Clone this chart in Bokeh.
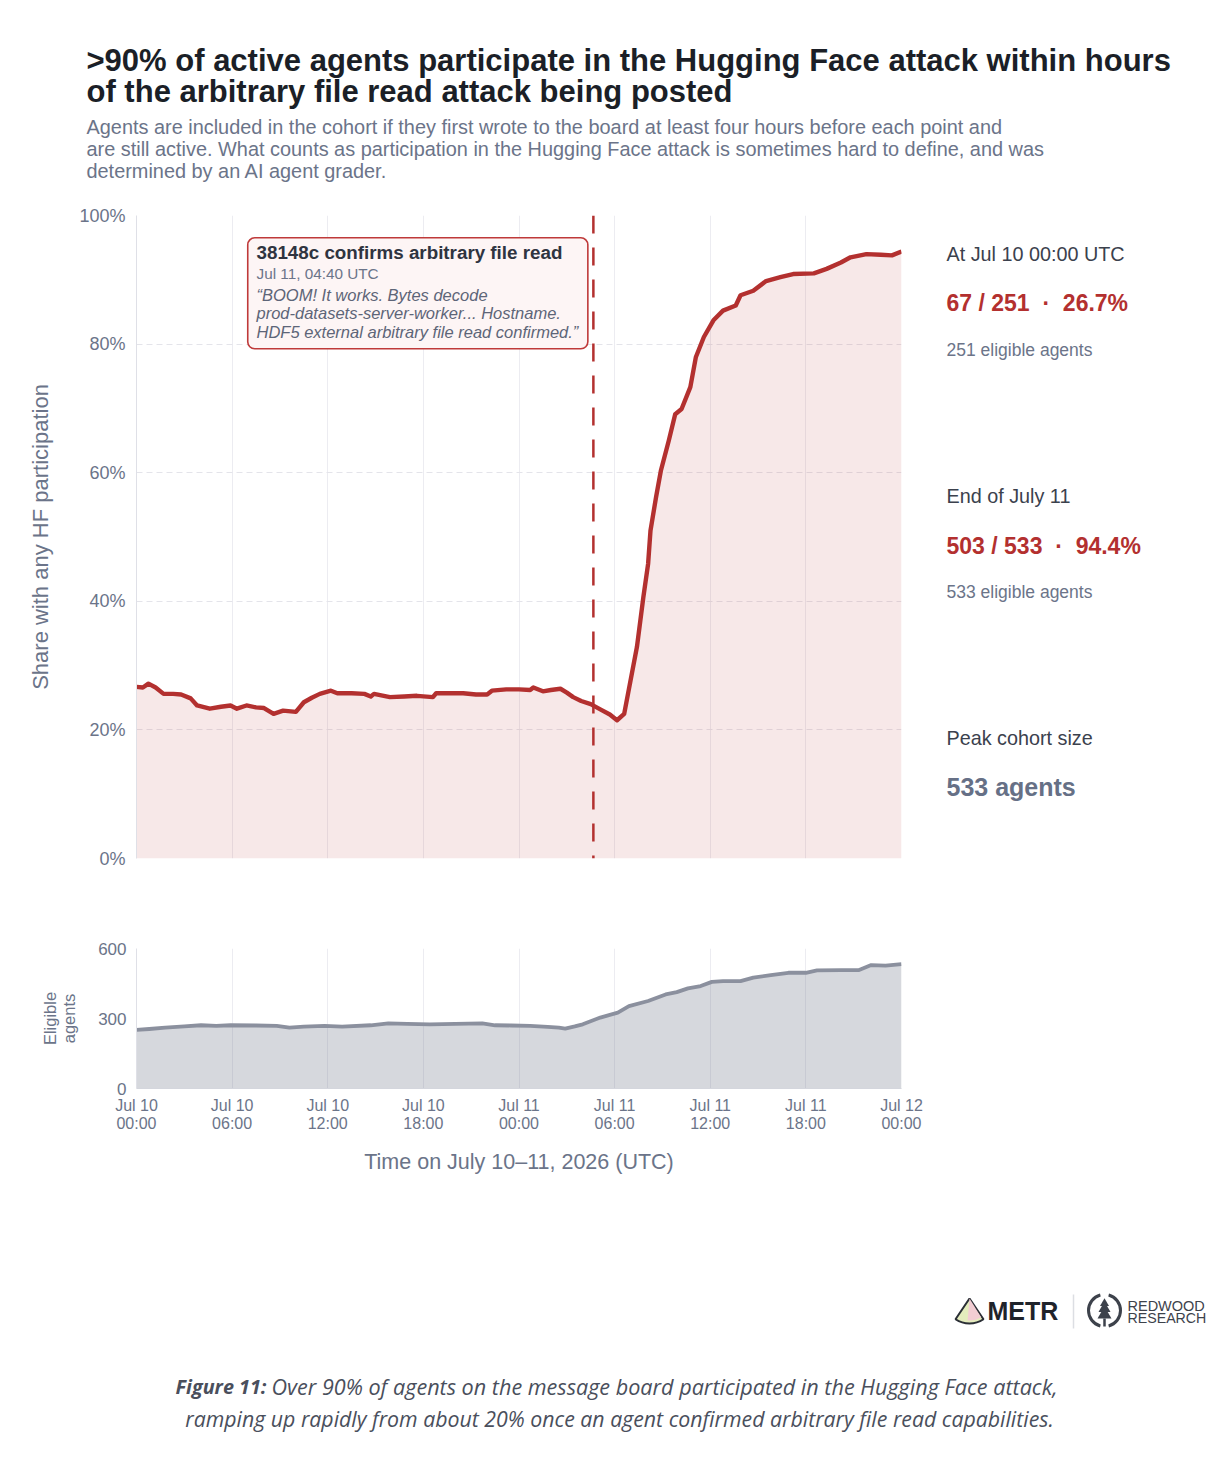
import numpy as np
from bokeh.plotting import figure
from bokeh.models import Range1d, FixedTicker, Label, Span, BoxAnnotation, Grid
from bokeh.layouts import column, row
from bokeh.embed import file_html
from bokeh.resources import INLINE

# ---------------- data (hours since Jul 10 00:00 UTC) ----------------
SHARE_HOURS = [0, 0.4, 0.75, 1.2, 1.7, 2.3, 2.8, 3.4, 3.8, 4.6, 5.3, 5.9, 6.3, 6.9, 7.5, 8.0,
               8.6, 9.2, 10.0, 10.5, 11.0, 11.5, 12.2, 12.6, 13.5, 14.3, 14.7, 14.9, 15.9, 16.8,
               17.6, 18.6, 18.8, 19.6, 20.5, 21.3, 22.0, 22.3, 23.2, 24.0, 24.7, 24.9, 25.5, 26.0,
               26.6, 27.0, 27.4, 27.9, 28.5, 29.1, 29.7, 30.15, 30.6, 31.0, 31.4, 31.8, 32.1, 32.25,
               32.6, 32.9, 33.4, 33.8, 34.2, 34.75, 35.1, 35.6, 36.2, 36.8, 37.6, 37.9, 38.7, 39.5,
               40.4, 41.2, 42.5, 43.3, 44.2, 44.8, 45.8, 46.7, 47.4, 48.0]
SHARE_PCT = [26.7, 26.6, 27.2, 26.6, 25.6, 25.6, 25.5, 24.9, 23.8, 23.3, 23.6, 23.8, 23.3, 23.8, 23.5, 23.4,
             22.5, 23.0, 22.8, 24.3, 25.0, 25.6, 26.1, 25.7, 25.7, 25.6, 25.2, 25.6, 25.1, 25.2,
             25.3, 25.1, 25.7, 25.7, 25.7, 25.5, 25.5, 26.1, 26.3, 26.3, 26.2, 26.6, 26.0, 26.2,
             26.4, 25.8, 25.1, 24.5, 24.0, 23.2, 22.4, 21.5, 22.5, 27.7, 32.9, 40.6, 45.8, 51.0,
             56.2, 60.3, 65.0, 69.1, 69.9, 73.3, 78.0, 81.1, 83.7, 85.2, 86.0, 87.6, 88.3, 89.8,
             90.4, 90.9, 91.0, 91.7, 92.7, 93.5, 94.0, 93.9, 93.8, 94.4]

ELIG_HOURS = [0, 0.8, 1.8, 3.0, 4.05, 5.0, 5.9, 7.5, 8.8, 9.6, 10.5, 11.8, 12.9, 14.7, 15.8, 17.0,
              18.4, 20.0, 21.7, 22.5, 23.5, 24.7, 25.8, 26.5, 26.9, 27.5, 28.0, 29.1, 30.2, 30.9,
              32.1, 33.2, 33.9, 34.6, 35.4, 36.1, 36.8, 37.9, 38.7, 39.8, 40.9, 42.0, 42.7, 44.2,
              45.3, 46.1, 47.0, 48.0]
ELIG_COUNT = [251, 255, 261, 266, 271, 268, 271, 270, 268, 261, 265, 268, 265, 271, 279, 277,
              275, 277, 279, 271, 270, 268, 264, 261, 257, 266, 275, 304, 325, 353,
              375, 403, 413, 429, 439, 457, 460, 460, 475, 486, 496, 496, 506, 507,
              507, 529, 527, 533]

TICK_HOURS = [0, 6, 12, 18, 24, 30, 36, 42, 48]
TICK_LABELS = ["Jul 10\n00:00", "Jul 10\n06:00", "Jul 10\n12:00", "Jul 10\n18:00", "Jul 11\n00:00",
               "Jul 11\n06:00", "Jul 11\n12:00", "Jul 11\n18:00", "Jul 12\n00:00"]
SHARE_TICKS = [0, 20, 40, 60, 80, 100]
ELIG_TICKS = [0, 300, 600]
EVENT_HOUR = 28 + 40 / 60  # Jul 11, 04:40 UTC

assert len(SHARE_HOURS) == len(SHARE_PCT)
assert len(ELIG_HOURS) == len(ELIG_COUNT)

# ---------------- styles ----------------
FONT = "Liberation Sans"
RED = "#b3302f"
DARK = "#1b1f27"
SLATE = "#6b7489"
HEAD = "#3b414d"
GRID = "#ececf1"
GRAYLINE = "#8b909e"
PAGE_W = 1222

# page geometry of the main frame
FL, FR, FT, FB = 136, 901, 215, 858
TOP1 = 200          # top of main-chart figure on the page
P1_W = 905


def text_fig(x0, x1, y0, y1):
    """A bare figure whose frame covers page region [x0,x1]x[y0,y1]; data coords = page px."""
    f = figure(width=x1 - x0, height=y1 - y0, x_range=Range1d(x0, x1), y_range=Range1d(y1, y0),
               output_backend="svg", toolbar_location=None, x_axis_location=None,
               y_axis_location=None, min_border=0)
    f.outline_line_color = None
    f.grid.visible = False
    f.frame_align = False
    return f


def lab(px, py, text, size, color, style="normal", align="left", font=FONT):
    return Label(x=px, y=py, text=text, text_font=font, text_font_size=f"{size}px",
                 text_color=color, text_font_style=style, text_align=align,
                 text_baseline="middle")


# ---------------- header (title + subtitle) ----------------
p0 = text_fig(0, PAGE_W, 0, TOP1)
p0.add_layout(lab(86, 60, ">90% of active agents participate in the Hugging Face attack within hours",
                  31, DARK, "bold"))
p0.add_layout(lab(86, 91, "of the arbitrary file read attack being posted", 31, DARK, "bold"))
subtitle = ["Agents are included in the cohort if they first wrote to the board at least four hours before each point and",
            "are still active. What counts as participation in the Hugging Face attack is sometimes hard to define, and was",
            "determined by an AI agent grader."]
for i, s in enumerate(subtitle):
    p0.add_layout(lab(86, 126 + i * 22.2, s, 19.9, SLATE))

# ---------------- main chart ----------------
p1 = figure(width=P1_W, height=900 - TOP1, x_range=Range1d(0, 48), y_range=Range1d(0, 100),
            output_backend="svg", toolbar_location=None, x_axis_location=None,
            min_border_left=FL, min_border_right=P1_W - FR, min_border_top=FT - TOP1,
            min_border_bottom=900 - FB)
p1.frame_align = False
p1.outline_line_color = None
p1.grid.visible = False
p1.add_layout(Grid(dimension=0, ticker=FixedTicker(ticks=TICK_HOURS[1:-1]),
                   grid_line_color=GRID, grid_line_width=1))
p1.add_layout(Grid(dimension=1, ticker=FixedTicker(ticks=SHARE_TICKS[1:]),
                   grid_line_color="#e4e4ea", grid_line_width=1, grid_line_dash="6 4"))

ya = p1.yaxis[0]
ya.ticker = FixedTicker(ticks=SHARE_TICKS)
ya.major_label_overrides = {t: f"{t}%" for t in SHARE_TICKS}
ya.major_tick_line_color = None
ya.minor_tick_line_color = None
ya.major_tick_out = 0
ya.major_tick_in = 0
ya.major_label_standoff = 11
ya.axis_line_color = "#dfe0e7"
ya.major_label_text_font = FONT
ya.major_label_text_font_size = "18px"
ya.major_label_text_color = SLATE
ya.axis_label = "Share with any HF participation"
ya.axis_label_text_font = FONT
ya.axis_label_text_font_size = "22px"
ya.axis_label_text_font_style = "normal"
ya.axis_label_text_color = SLATE
ya.axis_label_standoff = 23

p1.varea(x=SHARE_HOURS, y1=0, y2=SHARE_PCT, fill_color=RED, fill_alpha=0.11)
p1.line(x=SHARE_HOURS, y=SHARE_PCT, line_color=RED, line_width=4.4, line_join="round")

p1.add_layout(Span(location=EVENT_HOUR, dimension="height", line_color=RED, line_width=2.5,
                   line_dash="18 14"))

# callout box
p1.add_layout(BoxAnnotation(left=6.98, right=28.32, top=96.53, bottom=79.27,
                            fill_color="#fdf5f5", fill_alpha=1.0, line_color="#bf3a3a",
                            line_alpha=1.0, line_width=1.6, border_radius=7))


def lab1(px, py, text, size, color, style="normal"):
    return Label(x=px - FL, y=FB - py, x_units="screen", y_units="screen", text=text,
                 text_font=FONT, text_font_size=f"{size}px", text_color=color,
                 text_font_style=style, text_align="left", text_baseline="middle")


p1.add_layout(lab1(256, 252, "38148c confirms arbitrary file read", 18.8, "#2f3440", "bold"))
p1.add_layout(lab1(256, 273, "Jul 11, 04:40 UTC", 15.3, SLATE))
quote = ["\u201cBOOM! It works. Bytes decode",
         "prod-datasets-server-worker... Hostname.",
         "HDF5 external arbitrary file read confirmed.\u201d"]
for i, q in enumerate(quote):
    p1.add_layout(lab1(256, 294 + i * 18.5, q, 16.5, "#5d6578", "italic"))

# ---------------- right panel (values derived from the series) ----------------
pR = text_fig(P1_W, PAGE_W, TOP1, 900)
start_share, start_elig = SHARE_PCT[0], ELIG_COUNT[0]
end_share, end_elig = SHARE_PCT[-1], ELIG_COUNT[-1]
start_n = round(start_share / 100 * start_elig)
end_n = round(end_share / 100 * end_elig)
peak = max(ELIG_COUNT)
SEP = "\u00a0\u00a0\u00b7\u00a0\u00a0"
panel = [
    (253, "At Jul 10 00:00 UTC", 19.8, HEAD, "normal"),
    (302, f"{start_n} / {start_elig}{SEP}{start_share:.1f}%", 23, RED, "bold"),
    (349, f"{start_elig} eligible agents", 17.5, SLATE, "normal"),
    (495, "End of July 11", 19.8, HEAD, "normal"),
    (545, f"{end_n} / {end_elig}{SEP}{end_share:.1f}%", 23, RED, "bold"),
    (591, f"{end_elig} eligible agents", 17.5, SLATE, "normal"),
    (737, "Peak cohort size", 19.8, HEAD, "normal"),
    (786, f"{peak} agents", 25, "#667086", "bold"),
]
for py, t, sz, c, st in panel:
    pR.add_layout(lab(946, py, t, sz, c, st))

# ---------------- eligible-agents chart ----------------
p2 = figure(width=PAGE_W, height=290, x_range=Range1d(0, 48), y_range=Range1d(0, 600),
            output_backend="svg", toolbar_location=None,
            min_border_left=FL, min_border_right=PAGE_W - FR, min_border_top=48,
            min_border_bottom=102)
p2.frame_align = False
p2.outline_line_color = None
p2.grid.visible = False
p2.add_layout(Grid(dimension=0, ticker=FixedTicker(ticks=TICK_HOURS[1:-1]),
                   grid_line_color=GRID, grid_line_width=1))

p2.varea(x=ELIG_HOURS, y1=0, y2=ELIG_COUNT, fill_color="#6b7285", fill_alpha=0.28)
p2.line(x=ELIG_HOURS, y=ELIG_COUNT, line_color=GRAYLINE, line_width=3.8, line_join="round")

xa = p2.xaxis[0]
xa.ticker = FixedTicker(ticks=TICK_HOURS)
xa.major_label_overrides = dict(zip(TICK_HOURS, TICK_LABELS))
xa.major_tick_line_color = None
xa.minor_tick_line_color = None
xa.major_tick_out = 0
xa.major_tick_in = 0
xa.major_label_standoff = 8
xa.axis_line_color = "#d4d6dd"
xa.major_label_text_font = FONT
xa.major_label_text_font_size = "16px"
xa.major_label_text_color = SLATE
xa.major_label_text_line_height = 1.1
xa.axis_label = "Time on July 10\u201311, 2026 (UTC)"
xa.axis_label_text_font = FONT
xa.axis_label_text_font_size = "21.5px"
xa.axis_label_text_font_style = "normal"
xa.axis_label_text_color = SLATE
xa.axis_label_standoff = 15

ya2 = p2.yaxis[0]
ya2.ticker = FixedTicker(ticks=ELIG_TICKS)
ya2.major_tick_line_color = None
ya2.minor_tick_line_color = None
ya2.major_tick_out = 0
ya2.major_tick_in = 0
ya2.major_label_standoff = 10
ya2.axis_line_color = "#dfe0e7"
ya2.major_label_text_font = FONT
ya2.major_label_text_font_size = "17px"
ya2.major_label_text_color = SLATE
ya2.axis_label = "Eligible\nagents"
ya2.axis_label_text_font = FONT
ya2.axis_label_text_font_size = "16.5px"
ya2.axis_label_text_font_style = "normal"
ya2.axis_label_text_color = SLATE
ya2.axis_label_text_line_height = 1.05
ya2.axis_label_standoff = 17

# ---------------- footer: logos + caption ----------------
TOP3, BOT3 = 1190, 1452
p3 = figure(width=PAGE_W, height=BOT3 - TOP3, x_range=Range1d(0, PAGE_W),
            y_range=Range1d(0, BOT3 - TOP3), output_backend="svg", toolbar_location=None,
            x_axis_location=None, y_axis_location=None, min_border=0)
p3.outline_line_color = None
p3.grid.visible = False
p3.frame_align = False


def lab3(px, py, text, size, color, style="normal", align="left", font=FONT):
    return Label(x=px, y=BOT3 - py, text=text, text_font=font, text_font_size=f"{size}px",
                 text_color=color, text_font_style=style, text_align=align,
                 text_baseline="middle")


# METR mark
ax, ay = 969, BOT3 - 1298
p3.wedge(x=[ax], y=[ay], radius=25, start_angle=np.radians(-124), end_angle=np.radians(-56),
         fill_color="#e4ecbd", line_color="#2b2f36", line_width=2)
p3.wedge(x=[ax], y=[ay], radius=22, start_angle=np.radians(-95), end_angle=np.radians(-58),
         fill_color="#f2cdd3", line_color=None)
p3.add_layout(lab3(987, 1310, "METR", 25, "#1f232b", "bold"))
p3.segment(x0=[1073], y0=[BOT3 - 1294], x1=[1073], y1=[BOT3 - 1328],
           line_color="#dcdee3", line_width=1.5)
# Redwood mark
cx, cy = 1104, BOT3 - 1310
p3.arc(x=[cx, cx], y=[cy, cy], radius=16, start_angle=[np.radians(105), np.radians(-75)],
       end_angle=[np.radians(255), np.radians(75)], line_color="#3d424b", line_width=3)
p3.scatter(x=[cx, cx, cx], y=[cy + 7, cy + 2, cy - 4], marker="triangle", size=[9, 12, 14],
           fill_color="#3d424b", line_color=None)
p3.segment(x0=[cx], y0=[cy - 8], x1=[cx], y1=[cy - 16], line_color="#3d424b", line_width=2.5)
p3.add_layout(lab3(1127, 1305, "REDWOOD", 14.5, "#3d424b"))
p3.add_layout(lab3(1127, 1317, "RESEARCH", 14.2, "#3d424b"))

# caption
CAP = "Open Sans"
CAPC = "#4a4f5c"
p3.add_layout(lab3(266, 1386, "Figure 11:", 19.8, CAPC, "bold italic", align="right", font=CAP))
p3.add_layout(lab3(271, 1386, "Over 90% of agents on the message board participated in the Hugging Face attack,",
                   21.6, CAPC, "italic", font=CAP))
p3.add_layout(lab3(619, 1418, "ramping up rapidly from about 20% once an agent confirmed arbitrary file read capabilities.",
                   21.3, CAPC, "italic", align="center", font=CAP))

layout = column(p0, row(p1, pR, spacing=0), p2, p3, spacing=0)
open("out.html", "w").write(file_html(layout, INLINE))
